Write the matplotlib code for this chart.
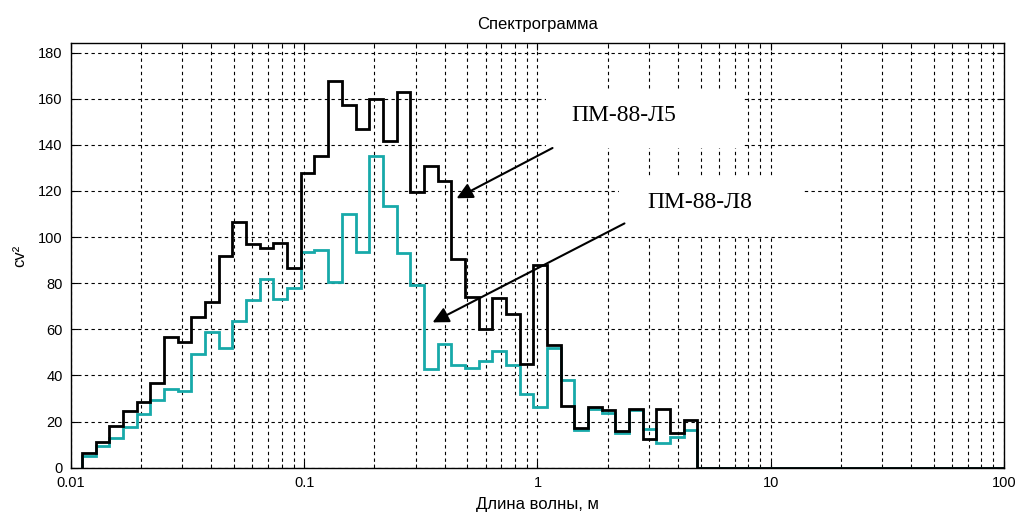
import numpy as np
import matplotlib
matplotlib.use("Agg")
import matplotlib.pyplot as plt
from matplotlib.patches import Rectangle

# границы полос по длине волны, м (последняя полоса - нулевая до 100 м)
edges = [0.01115, 0.01276, 0.01461, 0.01671, 0.01913, 0.02190, 0.02506, 0.02868,
         0.03283, 0.03757, 0.04300, 0.04922, 0.05633, 0.06447, 0.07379, 0.08445,
         0.09667, 0.1106, 0.1266, 0.1449, 0.1659, 0.1899, 0.2173, 0.2487,
         0.2847, 0.3258, 0.3729, 0.4268, 0.4885, 0.5591, 0.6400, 0.7325,
         0.8383, 0.9594, 1.098, 1.257, 1.439, 1.647, 1.885, 2.157,
         2.469, 2.826, 3.234, 3.702, 4.236, 4.849, 100.0]

cv2_l5 = [6.5, 11.3, 18.2, 24.6, 28.6, 36.9, 56.8, 54.6, 65.5, 71.9,
          91.8, 106.5, 97.0, 95.4, 97.6, 86.7, 127.7, 135.2, 167.7, 157.3,
          146.7, 159.8, 141.7, 162.9, 119.7, 131.0, 124.5, 90.5, 74.2, 60.1,
          73.7, 66.7, 45.0, 87.9, 53.2, 26.8, 17.4, 26.2, 25.0, 15.9,
          25.3, 12.3, 25.3, 15.2, 20.7, 0.0]

cv2_l8 = [5.1, 9.5, 12.7, 17.8, 23.1, 29.4, 34.0, 33.4, 49.4, 59.0,
          51.8, 63.7, 72.7, 81.7, 73.0, 77.8, 93.7, 94.4, 80.7, 109.9,
          93.7, 135.2, 113.5, 93.0, 79.2, 42.7, 53.6, 44.5, 43.1, 46.4,
          50.7, 44.5, 32.0, 26.5, 51.8, 38.0, 16.3, 25.5, 23.6, 14.9,
          25.0, 16.6, 10.8, 13.2, 16.3, 0.0]

xticks = [0.01, 0.1, 1, 10, 100]
xtick_labels = ["0.01", "0.1", "1", "10", "100"]
yticks = list(range(0, 181, 20))

narrow = ["Liberation Sans Narrow", "Liberation Sans", "DejaVu Sans"]
serif = ["Liberation Serif", "DejaVu Serif"]

fig = plt.figure(figsize=(10.2, 5.14), dpi=100)
ax = fig.add_axes([0.0696, 0.0901, 0.9147, 0.8257])

ax.stairs(cv2_l8, edges, baseline=0, color="#17A9A9", lw=2.0, zorder=3)
ax.stairs(cv2_l5, edges, baseline=0, color="black", lw=2.0, zorder=4)

ax.set_xscale("log")
ax.set_xlim(0.01, 100)
ax.set_ylim(0, 184)
ax.set_xticks(xticks)
ax.set_xticklabels(xtick_labels, family=narrow, fontsize=10.5)
ax.set_yticks(yticks)
ax.set_yticklabels([str(v) for v in yticks], family=narrow, fontsize=10.5)

ax.grid(True, which="major", color="black", linestyle=(0, (3, 3)), lw=0.8)
ax.grid(True, which="minor", axis="x", color="black", linestyle=(0, (3, 3)), lw=0.8)
ax.tick_params(which="both", direction="in", top=True, right=True, length=5)
ax.tick_params(axis="x", pad=6)
ax.tick_params(axis="y", pad=6)
ax.tick_params(which="minor", length=3)
for s in ax.spines.values():
    s.set_linewidth(1.0)

ax.set_title("Спектрограмма", family=narrow, fontsize=12, pad=10)
ax.set_xlabel("Длина волны, м", family=narrow, fontsize=12, labelpad=5)
ax.set_ylabel("cv²", family=narrow, fontsize=12, labelpad=8)

# белые подложки под подписи
ax.add_patch(Rectangle((0.5096, 0.754), 0.2111, 0.1366, transform=ax.transAxes,
                       facecolor="white", edgecolor="none", zorder=5))
ax.add_patch(Rectangle((0.5878, 0.545), 0.1972, 0.1366, transform=ax.transAxes,
                       facecolor="white", edgecolor="none", zorder=5))
ax.text(0.5927, 0.8309, "ПМ-88-Л5", transform=ax.transAxes, family=serif,
        fontsize=17, ha="center", va="center", zorder=6)
ax.text(0.6738, 0.6242, "ПМ-88-Л8", transform=ax.transAxes, family=serif,
        fontsize=17, ha="center", va="center", zorder=6)

ax.annotate("", xy=(0.450, 116.8), xytext=(1.16, 138.6),
            arrowprops=dict(arrowstyle="-|>", color="black", lw=1.5,
                            mutation_scale=24, shrinkA=0, shrinkB=0), zorder=7)
ax.annotate("", xy=(0.355, 63.0), xytext=(2.36, 105.9),
            arrowprops=dict(arrowstyle="-|>", color="black", lw=1.5,
                            mutation_scale=24, shrinkA=0, shrinkB=0), zorder=7)

fig.savefig("out.png", dpi=100)
